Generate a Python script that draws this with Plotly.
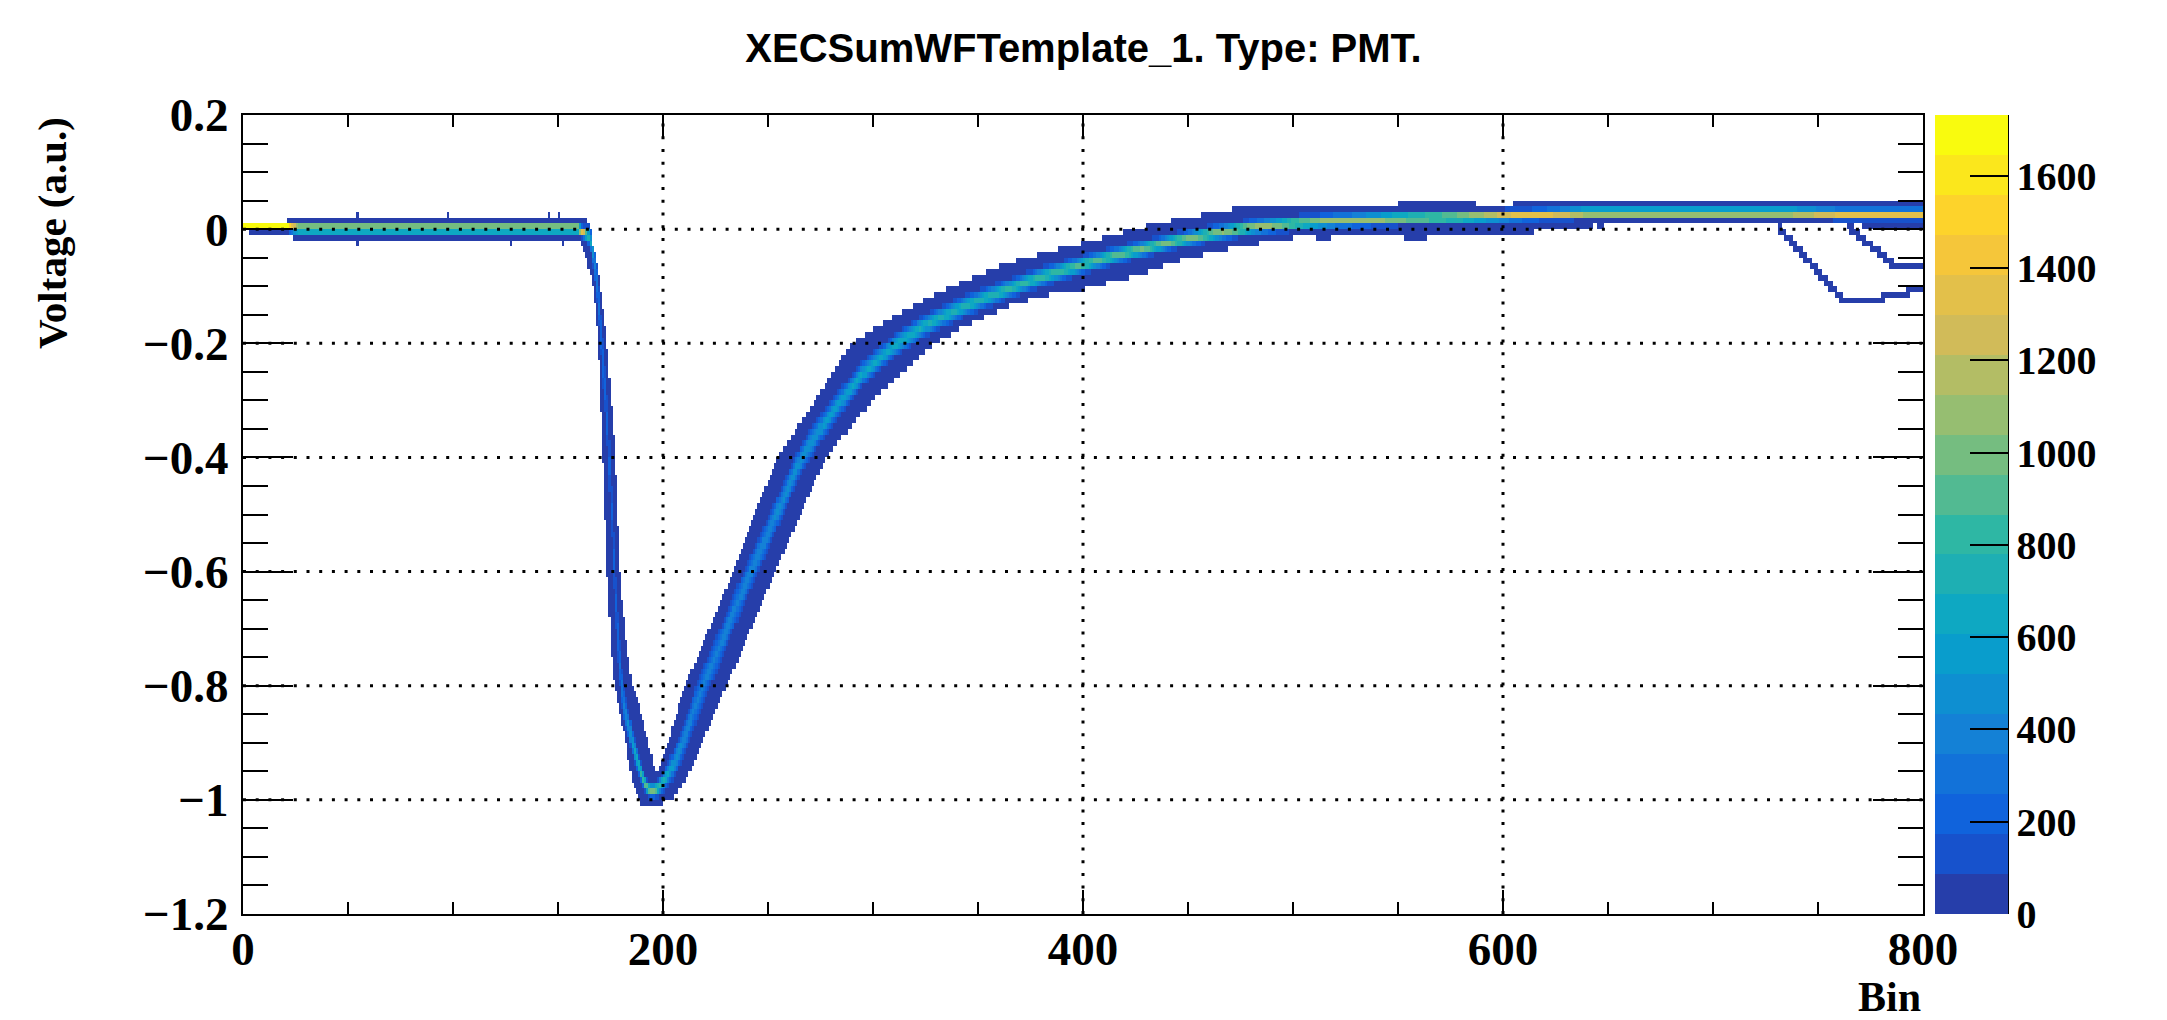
import math
import numpy as np
import plotly.graph_objects as go

TITLE = "XECSumWFTemplate_1. Type: PMT."
X_TITLE = "Bin"
Y_TITLE = "Voltage (a.u.)"

N_EVENTS = 1732            # waveforms accumulated in the template
N_XBINS = 800
Y_MIN, Y_MAX, Y_BIN = -1.2, 0.2, 0.01

X_TICKS = [0, 200, 400, 600, 800]
Y_TICKS = [0.2, 0.0, -0.2, -0.4, -0.6, -0.8, -1.0, -1.2]
Z_TICKS = [0, 200, 400, 600, 800, 1000, 1200, 1400, 1600]
GRID_X = [200, 400, 600]
GRID_Y = [0.0, -0.2, -0.4, -0.6, -0.8, -1.0]

# Most probable voltage of the pulse band, per sample bin
CORE_BIN = [0, 19, 22, 27, 159, 160, 161, 162, 163, 164, 165, 166, 167, 168, 169, 170,
            171, 172, 173, 174, 175, 176, 177, 178, 179, 180, 181, 182, 184, 186, 188,
            190, 192, 194, 196, 198, 200, 202, 205, 208, 211, 214, 216, 219, 225, 230,
            236, 242, 248, 254, 260, 266, 275, 285, 296, 310, 325, 345, 365, 380, 400,
            420, 440, 460, 480, 500, 520, 550, 580, 600, 615, 640, 735, 760, 800]
CORE_V = [0.005, 0.005, 0.004, 0.0015, 0.0015, 0.001, -0.004, -0.005, -0.007, -0.009,
          -0.015, -0.03, -0.05, -0.08, -0.115, -0.16, -0.21, -0.257, -0.305, -0.373,
          -0.455, -0.54, -0.62, -0.69, -0.74, -0.785, -0.82, -0.845, -0.875, -0.91,
          -0.935, -0.958, -0.976, -0.983, -0.983, -0.978, -0.968, -0.958, -0.938,
          -0.912, -0.885, -0.852, -0.83, -0.8, -0.75, -0.705, -0.65, -0.6, -0.55, -0.5,
          -0.45, -0.4, -0.35, -0.3, -0.25, -0.205, -0.168, -0.133, -0.104, -0.084,
          -0.062, -0.042, -0.024, -0.009, 0.003, 0.010, 0.0145, 0.0185, 0.021, 0.023,
          0.025, 0.028, 0.028, 0.0265, 0.0265]

# Width of the dense core of the band (V)
SPREAD_BIN = [0, 19, 21, 24, 27, 159, 161, 163, 165, 167, 169, 171, 173, 175, 177, 179,
              181, 183, 186, 189, 192, 196, 199, 203, 208, 215, 225, 242, 266, 290, 310,
              340, 365, 400, 440, 480, 520, 560, 580, 610, 640, 735, 760, 800]
SPREAD_V = [0.0008, 0.0008, 0.002, 0.004, 0.005, 0.005, 0.0035, 0.005, 0.009, 0.015,
            0.022, 0.028, 0.034, 0.038, 0.036, 0.028, 0.02, 0.015, 0.011, 0.008, 0.006,
            0.006, 0.008, 0.011, 0.015, 0.018, 0.0185, 0.017, 0.014, 0.011, 0.0098, 0.009,
            0.0082, 0.0072, 0.0062, 0.0058, 0.0055, 0.005, 0.0045, 0.004, 0.0045, 0.0045,
            0.004, 0.004]

# Upper edge of the populated region
TOP_BIN = [0, 20, 21, 164, 165, 166, 167, 168, 169, 170, 171, 172, 173, 174, 175, 176,
           177, 178, 179, 180, 182, 184, 186, 188, 190, 192, 195, 197, 199, 202, 203.5,
           208.5, 210.5, 218.5, 233.5, 243.5, 254.5, 272.5, 289.5, 308, 323.5, 343.5,
           363.5, 383, 404.5, 424, 436, 448, 463, 478, 549, 551, 586, 588, 604, 606, 800]
TOP_V = [0.01, 0.01, 0.02, 0.02, 0.01, -0.015, -0.035, -0.05, -0.07, -0.09, -0.125,
         -0.16, -0.19, -0.23, -0.28, -0.33, -0.39, -0.47, -0.56, -0.63, -0.70, -0.77,
         -0.81, -0.825, -0.855, -0.885, -0.93, -0.955, -0.935, -0.91, -0.885, -0.82,
         -0.80, -0.73, -0.6, -0.5, -0.4, -0.3, -0.2, -0.157, -0.125, -0.09, -0.06,
         -0.04, -0.02, 0.0, 0.01, 0.02, 0.03, 0.04, 0.04, 0.05, 0.05, 0.04, 0.04,
         0.05, 0.05]

# Lower edge of the populated region
BOTTOM_BIN = [0, 3, 4, 24, 25, 160, 162, 163, 164, 165, 166, 167, 168, 169, 170, 171,
              172, 173, 174, 175, 176, 177, 178, 179, 180, 182, 184, 186, 188, 190, 197,
              200, 205, 210, 214.5, 220.5, 226.5, 230.5, 253.5, 277.5, 300, 329, 343,
              364, 381.5, 396, 406, 416, 427, 434, 441, 451, 463, 475, 493, 507, 614, 615,
              642, 643, 771, 772, 800]
BOTTOM_V = [0.0, 0.0, -0.01, -0.01, -0.02, -0.02, -0.03, -0.045, -0.06, -0.07, -0.08,
            -0.11, -0.15, -0.19, -0.27, -0.36, -0.45, -0.57, -0.65, -0.71, -0.78, -0.805,
            -0.82, -0.84, -0.86, -0.89, -0.943, -0.975, -1.0, -1.01, -1.01, -1.005,
            -0.995, -0.97, -0.943, -0.885, -0.826, -0.8, -0.6, -0.4, -0.3, -0.2, -0.172,
            -0.136, -0.116, -0.11, -0.10, -0.09, -0.08, -0.07, -0.06, -0.05, -0.04,
            -0.03, -0.02, -0.01, -0.01, 0.0, 0.0, 0.01, 0.01, 0.0, 0.0]

# Two single waveforms that drop away from the band near the end of the window
STRAY_A_BIN = [731, 762, 781, 781, 793, 793, 800]
STRAY_A_V = [0.005, -0.125, -0.125, -0.115, -0.115, -0.105, -0.105]
STRAY_B_BIN = [764, 787, 800]
STRAY_B_V = [0.005, -0.065, -0.065]
STRAY_JITTER = 0.9         # timing jitter of the stray samples (bins)

# Isolated filled cells outside the band (first bin, last bin, voltage)
LONE_FROM = [54, 97, 145, 150, 54, 127, 152, 511, 553, 645]
LONE_TO = [54, 97, 145, 150, 54, 127, 152, 517, 563, 647]
LONE_V = [0.025, 0.025, 0.025, 0.025, -0.025, -0.025, -0.025, -0.015, -0.015, 0.005]

# ROOT kBird palette, split into 20 contour levels
BIRD_STOPS = [0.0, 0.125, 0.25, 0.375, 0.5, 0.625, 0.75, 0.875, 1.0]
BIRD_R = [0.2082, 0.0592, 0.0780, 0.0232, 0.1802, 0.5301, 0.8186, 0.9956, 0.9764]
BIRD_G = [0.1664, 0.3599, 0.5041, 0.6419, 0.7178, 0.7492, 0.7328, 0.7862, 0.9832]
BIRD_B = [0.5293, 0.8684, 0.8385, 0.7914, 0.6425, 0.4662, 0.3499, 0.1968, 0.0539]
N_LEVELS = 20

# ---------------------------------------------------------------- histogram
x_centers = np.arange(N_XBINS) + 0.5
n_ybins = int(round((Y_MAX - Y_MIN) / Y_BIN))
y_centers = Y_MIN + (np.arange(n_ybins) + 0.5) * Y_BIN

core = np.interp(x_centers, CORE_BIN, CORE_V)
spread = np.interp(x_centers, SPREAD_BIN, SPREAD_V)
top = np.interp(x_centers, TOP_BIN, TOP_V)
bottom = np.interp(x_centers, BOTTOM_BIN, BOTTOM_V)

erf = np.vectorize(math.erf)
scale = spread[None, :] * math.sqrt(2.0)
lo = (y_centers[:, None] - Y_BIN / 2 - core[None, :]) / scale
hi = (y_centers[:, None] + Y_BIN / 2 - core[None, :]) / scale
counts = N_EVENTS * 0.5 * (erf(hi) - erf(lo))
inside = (y_centers[:, None] > bottom[None, :]) & (y_centers[:, None] < top[None, :])
counts = np.where(inside, np.maximum(np.rint(counts), 1.0), 0.0)


def row_of(v):
    return int(math.floor((v - Y_MIN) / Y_BIN + 1e-9))


def add_waveform(bins, volts):
    for j, xc in enumerate(x_centers):
        if bins[0] <= xc <= bins[-1]:
            a = float(np.interp(max(xc - STRAY_JITTER, bins[0]), bins, volts))
            b = float(np.interp(min(xc + STRAY_JITTER, bins[-1]), bins, volts))
            for i in range(row_of(min(a, b)), row_of(max(a, b)) + 1):
                counts[i, j] += 1


add_waveform(STRAY_A_BIN, STRAY_A_V)
add_waveform(STRAY_B_BIN, STRAY_B_V)
for a, b, v in zip(LONE_FROM, LONE_TO, LONE_V):
    for j in range(a, b + 1):
        i = row_of(v)
        counts[i, j] = max(counts[i, j], 1.0)

z = np.where(counts > 0, counts, np.nan)


def bird(t):
    r = np.interp(t, BIRD_STOPS, BIRD_R)
    g = np.interp(t, BIRD_STOPS, BIRD_G)
    b = np.interp(t, BIRD_STOPS, BIRD_B)
    return "rgb(%d,%d,%d)" % (round(r * 255), round(g * 255), round(b * 255))


colorscale = []
for k in range(N_LEVELS):
    c = bird((k + 1) / N_LEVELS)
    colorscale.append([k / N_LEVELS, c])
    colorscale.append([(k + 1) / N_LEVELS, c])

# ---------------------------------------------------------------- figure
W, H = 2167, 1020
L, R, T, B = 243, 244, 115, 106
PLOT_W = W - L - R

SERIF = "Liberation Serif"
SANS = "Liberation Sans"

fig = go.Figure()
fig.add_trace(go.Heatmap(
    z=z, x=x_centers, y=y_centers,
    zmin=0, zmax=N_EVENTS,
    colorscale=colorscale,
    zsmooth=False,
    hoverinfo="skip",
    colorbar=dict(
        x=1 + 12 / PLOT_W, xanchor="left", xref="paper", xpad=0,
        y=0.5, yanchor="middle", len=1, lenmode="fraction", ypad=0,
        thickness=73, thicknessmode="pixels",
        outlinewidth=0,
        ticks="inside", ticklen=38, tickwidth=2, tickcolor="black",
        tickvals=Z_TICKS, ticktext=[str(v) for v in Z_TICKS],
        tickfont=dict(family=SERIF, size=40, color="black", weight="bold"),
    ),
))

axis_common = dict(
    showline=True, linewidth=2, linecolor="black", mirror="allticks",
    ticks="inside", tickwidth=2, tickcolor="black",
    showgrid=False, zeroline=False,
    tickfont=dict(family=SERIF, size=47, color="black", weight="bold"),
)
fig.update_xaxes(
    range=[0, N_XBINS], tickvals=X_TICKS, ticktext=[str(v) for v in X_TICKS],
    ticklen=24, ticklabelstandoff=-7,
    minor=dict(dtick=50, tick0=0, ticklen=12, tickwidth=2, tickcolor="black", ticks="inside"),
    **axis_common,
)
fig.update_yaxes(
    range=[Y_MIN, Y_MAX], tickvals=Y_TICKS,
    ticktext=["0.2", "0", "\u22120.2", "\u22120.4", "\u22120.6", "\u22120.8", "\u22121", "\u22121.2"],
    ticklen=50, ticklabelstandoff=3,
    minor=dict(dtick=0.05, tick0=0, ticklen=25, tickwidth=2, tickcolor="black", ticks="inside"),
    **axis_common,
)

# dotted grid drawn over the histogram, as ROOT does
grid_dash = "3px,9.7px"
for gx in GRID_X:
    fig.add_shape(type="line", xref="x", yref="y", x0=gx, x1=gx, y0=Y_MIN, y1=Y_MAX,
                  line=dict(color="black", width=3, dash=grid_dash), layer="above")
for gy in GRID_Y:
    fig.add_shape(type="line", xref="x", yref="y", x0=0, x1=N_XBINS, y0=gy, y1=gy,
                  line=dict(color="black", width=3, dash=grid_dash), layer="above")

# palette axis line on the right side of the colour bar
fig.add_shape(type="line", xref="paper", yref="paper",
              x0=1 + 85 / PLOT_W, x1=1 + 85 / PLOT_W, y0=0, y1=1,
              line=dict(color="black", width=2), layer="above")

fig.add_annotation(text=Y_TITLE, textangle=-90, xref="paper", yref="paper",
                   x=(52 - L) / PLOT_W, y=1.0, xanchor="center", yanchor="top",
                   showarrow=False,
                   font=dict(family=SERIF, size=41, color="black", weight="bold"))
fig.add_annotation(text=X_TITLE, xref="paper", yref="paper",
                   x=1.0, y=-(997 - (H - B)) / (H - T - B), xanchor="right", yanchor="middle",
                   showarrow=False,
                   font=dict(family=SERIF, size=42, color="black", weight="bold"))

fig.update_layout(
    width=W, height=H,
    margin=dict(l=L, r=R, t=T, b=B),
    paper_bgcolor="white", plot_bgcolor="white",
    title=dict(text=TITLE, x=0.5, xref="container", xanchor="center",
               y=1 - 48 / H, yref="container", yanchor="middle",
               font=dict(family=SANS, size=40, color="black", weight="bold")),
    showlegend=False,
)

fig.write_html("out.html")
